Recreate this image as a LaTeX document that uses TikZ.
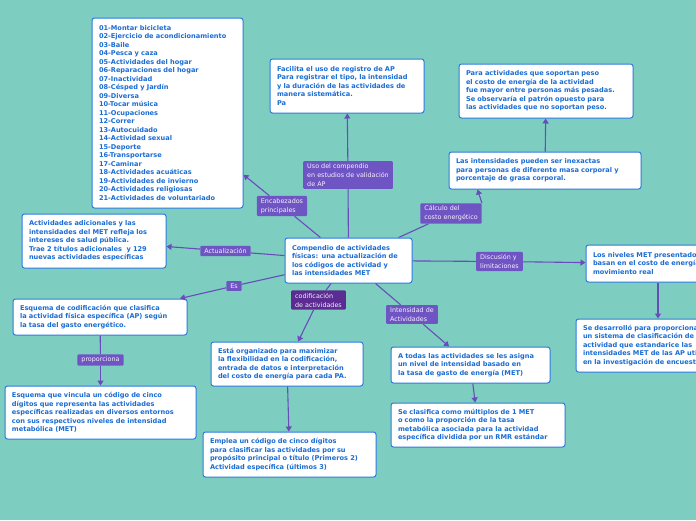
\documentclass[tikz,border=0pt]{standalone}
\usepackage{fontspec}
\usepackage{tikz}
\usetikzlibrary{arrows.meta}
\newfontfamily\BoxFont{DejaVu Sans}
\definecolor{ColBack}{RGB}{126,205,193}
\definecolor{ColBox}{RGB}{42,122,222}
\definecolor{ColText}{RGB}{26,108,212}
\definecolor{ColLabel}{RGB}{111,85,196}
\definecolor{ColLabelDark}{RGB}{92,44,146}
\definecolor{ColEdge}{RGB}{104,76,186}
\tikzstyle{InfoBox}=[rectangle,rounded corners=2.5pt,draw=ColBox,line width=1pt,fill=white,
text=ColText,inner xsep=7pt,inner ysep=2pt,align=left,
font=\BoxFont\bfseries\fontsize{6.6}{8.5}\selectfont]
\tikzstyle{LinkLabel}=[rectangle,rounded corners=1pt,fill=ColLabel,text=white!92!ColLabel,
inner xsep=4pt,inner ysep=2.5pt,align=left,font=\BoxFont\fontsize{6.4}{9}\selectfont]
\tikzstyle{LinkEdge}=[ColEdge,line width=1.1pt]
\tikzstyle{LinkArrow}=[ColEdge,line width=1.1pt,-{Triangle[length=5pt,width=6pt]}]
\begin{document}
\begin{tikzpicture}[x=1pt,y=-1pt]
        \clip(0,0)rectangle(696,520);
        \fill[ColBack](0,0)rectangle(696,520);
        % central topic
        \node[InfoBox,text width=113pt,minimum height=45pt](comp)at(348.5,260.5){Compendio de actividades\\físicas: una actualización de\\los códigos de actividad y\\las intensidades MET};
        % boxes
        \node[InfoBox,text width=137pt,minimum height=190pt](list)at(167.5,113){01-Montar bicicleta\\02-Ejercicio de acondicionamiento\\03-Baile\\04-Pesca y caza\\05-Actividades del hogar\\06-Reparaciones del hogar\\07-Inactividad\\08-Césped y Jardín\\09-Diversa\\10-Tocar música\\11-Ocupaciones\\12-Correr\\13-Autocuidado\\14-Actividad sexual\\15-Deporte\\16-Transportarse\\17-Caminar\\18-Actividades acuáticas\\19-Actividades de invierno\\20-Actividades religiosas\\21-Actividades de voluntariado};
        \node[InfoBox,text width=140pt,minimum height=54pt](reg)at(347,86){Facilita el uso de registro de AP\\Para registrar el tipo, la intensidad\\y la duración de las actividades de\\manera sistemática.\\Pa};
        \node[InfoBox,text width=160pt,minimum height=54pt](peso)at(546,91){Para actividades que soportan peso\\el costo de energía de la actividad\\fue mayor entre personas más pesadas.\\Se observaría el patrón opuesto para\\las actividades que no soportan peso.};
        \node[InfoBox,text width=178pt,minimum height=37pt](inex)at(545,170.5){Las intensidades pueden ser inexactas\\para personas de diferente masa corporal y\\porcentaje de grasa corporal.};
        \node[InfoBox,text width=130pt,minimum height=54pt](adic)at(94,241){Actividades adicionales y las\\intensidades del MET refleja los\\intereses de salud pública.\\Trae 2 títulos adicionales~ y 129\\nuevas actividades específicas};
        \node[InfoBox,text width=130pt,minimum height=37pt](niv)at(658,263.5){Los niveles MET presentados se\\basan en el costo de energía del\\movimiento real};
        \node[InfoBox,text width=150pt,minimum height=53pt](desa)at(658,345.5){Se desarrolló para proporcionar\\un sistema de clasificación de la\\actividad que estandarice las\\intensidades MET de las AP utilizadas\\en la investigación de encuestas};
        \node[InfoBox,text width=160pt,minimum height=36pt](esq)at(100,317){Esquema de codificación que clasifica\\la actividad física específica (AP) según\\la tasa del gasto energético.};
        \node[InfoBox,text width=177pt,minimum height=53pt](vinc)at(100.5,412.5){Esquema que vincula un código de cinco\\dígitos que representa las actividades\\específicas realizadas en diversos entornos\\con sus respectivos niveles de intensidad\\metabólica (MET)};
        \node[InfoBox,text width=138pt,minimum height=44pt](org)at(287,364){Está organizado para maximizar\\la flexibilidad en la codificación,\\entrada de datos e interpretación\\del costo de energía para cada PA.};
        \node[InfoBox,text width=159pt,minimum height=45pt](empl)at(289.5,454.5){Emplea un código de cinco dígitos\\para clasificar las actividades por su\\propósito principal o título (Primeros 2)\\Actividad específica (últimos 3)};
        \node[InfoBox,text width=145pt,minimum height=36pt](asig)at(470.5,365){A todas las actividades se les asigna\\un nivel de intensidad basado en\\la tasa de gasto de energía (MET)};
        \node[InfoBox,text width=160pt,minimum height=44pt](mult)at(478,425){Se clasifica como múltiplos de 1 MET\\o como la proporción de la tasa\\metabólica asociada para la actividad\\específica dividida por un RMR estándar};
        % labels
        \node[LinkLabel](uso)at(348,175){Uso del compendio\\en estudios de validación\\de AP};
        \node[LinkLabel](enc)at(282,206){Encabezados\\principales};
        \node[LinkLabel](calc)at(451,213.5){Cálculo del\\costo energético};
        \node[LinkLabel](act)at(225.5,251){Actualización};
        \node[LinkLabel](es)at(234,286){Es};
        \node[LinkLabel,fill=ColLabelDark](cod)at(318.5,300){codificación\\de actividades};
        \node[LinkLabel](disc)at(499.5,261.5){Discusión y\\limitaciones};
        \node[LinkLabel](int)at(412,314.5){Intensidad de\\Actividades};
        \node[LinkLabel](prop)at(100.5,360){proporciona};
        % connectors
        \draw[LinkEdge](comp)--(uso);
        \draw[LinkArrow](uso)--(reg);
        \draw[LinkEdge](comp)--(enc);
        \draw[LinkArrow](enc)--(list);
        \draw[LinkEdge](comp)--(calc);
        \draw[LinkArrow](calc.north east)--([xshift=29pt]inex.south west);
        \draw[LinkArrow](inex)--(peso);
        \draw[LinkEdge](comp)--(act);
        \draw[LinkArrow](act)--(adic);
        \draw[LinkEdge](comp)--(es);
        \draw[LinkArrow](es)--(esq);
        \draw[LinkEdge](esq)--(prop);
        \draw[LinkArrow](prop)--(vinc);
        \draw[LinkEdge](comp)--(cod);
        \draw[LinkArrow](cod)--(org);
        \draw[LinkArrow](org)--(empl);
        \draw[LinkEdge](comp)--(int);
        \draw[LinkArrow](int)--(asig);
        \draw[LinkArrow](asig)--(mult);
        \draw[LinkEdge](comp)--(disc);
        \draw[LinkArrow](disc)--(niv);
        \draw[LinkArrow](niv)--(desa);
    \end{tikzpicture}
\end{document}
